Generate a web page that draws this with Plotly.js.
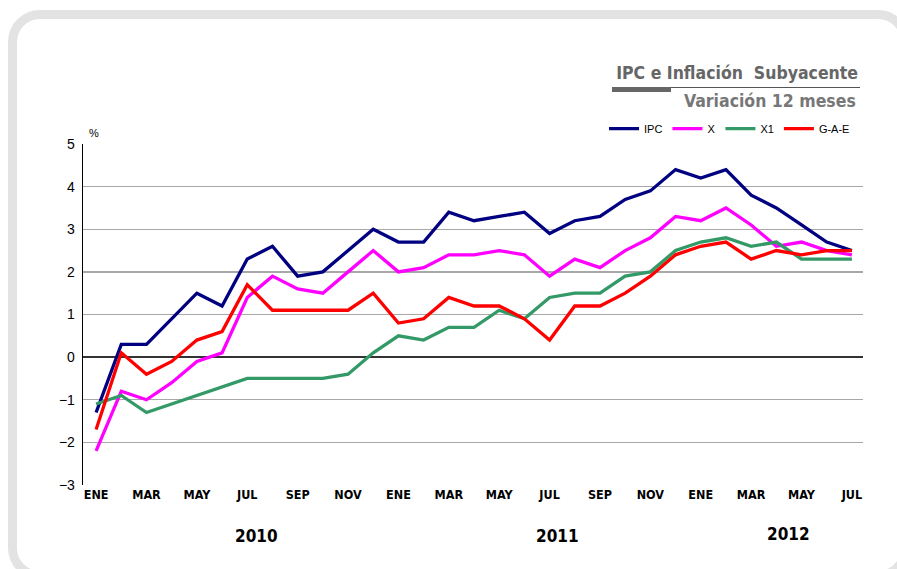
<!DOCTYPE html>
<html>
<head>
<meta charset="utf-8">
<script src="https://cdn.plot.ly/plotly-3.0.1.min.js"></script>
<style>
  html, body { margin:0; padding:0; background:#ffffff; }
  #frame { position:absolute; left:8px; top:10px; width:902px; height:570px; box-sizing:border-box;
           border:9px solid #e3e3e3; border-radius:32px; }
  #chart { position:absolute; left:0; top:0; width:897px; height:569px; }
</style>
</head>
<body>
<div id="frame"></div>
<div id="chart"></div>
<script>
// Months Jan 2010 .. Jul 2012
const months = ["ENE","FEB","MAR","ABR","MAY","JUN","JUL","AGO","SEP","OCT","NOV","DIC",
                "ENE","FEB","MAR","ABR","MAY","JUN","JUL","AGO","SEP","OCT","NOV","DIC",
                "ENE","FEB","MAR","ABR","MAY","JUN","JUL"];
const years = ["2010","2011","2012"];
const ipc = [-1.3, 0.3, 0.3, 0.9, 1.5, 1.2, 2.3, 2.6, 1.9, 2.0, 2.5, 3.0,
             2.7, 2.7, 3.4, 3.2, 3.3, 3.4, 2.9, 3.2, 3.3, 3.7, 3.9, 4.4,
             4.2, 4.4, 3.8, 3.5, 3.1, 2.7, 2.5];
const serieX = [-2.2, -0.8, -1.0, -0.6, -0.1, 0.1, 1.4, 1.9, 1.6, 1.5, 2.0, 2.5,
                2.0, 2.1, 2.4, 2.4, 2.5, 2.4, 1.9, 2.3, 2.1, 2.5, 2.8, 3.3,
                3.2, 3.5, 3.1, 2.6, 2.7, 2.5, 2.4];
const serieX1 = [-1.1, -0.9, -1.3, -1.1, -0.9, -0.7, -0.5, -0.5, -0.5, -0.5, -0.4, 0.1,
                 0.5, 0.4, 0.7, 0.7, 1.1, 0.9, 1.4, 1.5, 1.5, 1.9, 2.0, 2.5,
                 2.7, 2.8, 2.6, 2.7, 2.3, 2.3, 2.3];
const gae = [-1.7, 0.1, -0.4, -0.1, 0.4, 0.6, 1.7, 1.1, 1.1, 1.1, 1.1, 1.5,
             0.8, 0.9, 1.4, 1.2, 1.2, 0.9, 0.4, 1.2, 1.2, 1.5, 1.9, 2.4,
             2.6, 2.7, 2.3, 2.5, 2.4, 2.5, 2.5];
const seriesNames = ["IPC", "X", "X1", "G-A-E"];
const yTicks = [-3, -2, -1, 0, 1, 2, 3, 4, 5];

const idx = months.map((m, i) => i);
const tickIdx = idx.filter(i => i % 2 === 0);
const tickText = tickIdx.map(i => months[i]);

const condensed = "Liberation Sans Narrow, DejaVu Sans Condensed, Arial Narrow, sans-serif";
const colors = ["#000080", "#ff00ff", "#339966", "#ff0000"];
const data = [ipc, serieX, serieX1, gae].map((v, k) => ({
  x: idx, y: v, type: "scatter", mode: "lines", name: seriesNames[k],
  line: { color: colors[k], width: 3.3 }
}));

const layout = {
  width: 897, height: 569,
  margin: { l: 83, r: 34, t: 144, b: 84 },
  paper_bgcolor: "rgba(0,0,0,0)", plot_bgcolor: "rgba(0,0,0,0)",
  showlegend: true,
  legend: { orientation: "h", x: 0.668, xanchor: "left", y: 1.045, yanchor: "middle",
            font: { family: "Arial, Liberation Sans, sans-serif", size: 11, color: "#000" },
            itemwidth: 30, tracegroupgap: 0, bgcolor: "rgba(0,0,0,0)" },
  xaxis: {
    range: [-0.52, 30.44], tickvals: tickIdx, ticktext: tickText,
    showgrid: false, zeroline: false, showline: false, ticks: "",
    tickfont: { family: condensed, size: 12.5, color: "#000", weight: "bold" },
    fixedrange: true
  },
  yaxis: {
    range: [-3, 5], tickvals: yTicks, ticks: "",
    showgrid: true, gridcolor: "#a8a8a8", gridwidth: 1.3,
    zeroline: true, zerolinecolor: "#333", zerolinewidth: 1.3,
    showline: true, linecolor: "#000", linewidth: 1.3,
    tickfont: { family: "Arial, Liberation Sans, sans-serif", size: 14, color: "#000" },
    ticklabelstandoff: 4, fixedrange: true
  },
  title: {
    text: "IPC e Inflación  Subyacente",
    xref: "container", x: 858 / 897, xanchor: "right",
    yref: "container", y: 1 - 73 / 569, yanchor: "middle",
    font: { family: condensed, size: 17.5, color: "#666666", weight: "bold" }
  },
  annotations: [
    { text: "Variación 12 meses", xref: "paper", yref: "paper",
      x: (858 - 83) / (897 - 83 - 34), xanchor: "right", y: (485 - 101) / 341, yanchor: "middle",
      showarrow: false, font: { family: condensed, size: 17.5, color: "#777777", weight: "bold" } },
    { text: "%", xref: "paper", yref: "paper", x: (94 - 83) / 780, xanchor: "center",
      y: (485 - 133) / 341, yanchor: "middle", showarrow: false,
      font: { family: "Arial, Liberation Sans, sans-serif", size: 11, color: "#000" } },
    { text: years[0], xref: "x", yref: "paper", x: 6.35, y: -0.15, yanchor: "middle", showarrow: false,
      font: { family: condensed, size: 17, color: "#000", weight: "bold" } },
    { text: years[1], xref: "x", yref: "paper", x: 18.3, y: -0.15, yanchor: "middle", showarrow: false,
      font: { family: condensed, size: 17, color: "#000", weight: "bold" } },
    { text: years[2], xref: "x", yref: "paper", x: 27.5, y: -0.15 + 0.006, yanchor: "middle", showarrow: false,
      font: { family: condensed, size: 17, color: "#000", weight: "bold" } }
  ],
  shapes: [
    { type: "line", xref: "paper", yref: "paper", x0: (612 - 83) / 780, x1: (860 - 83) / 780,
      y0: (485 - 87.5) / 341, y1: (485 - 87.5) / 341, line: { color: "#555", width: 1 } },
    { type: "rect", xref: "paper", yref: "paper", x0: (612 - 83) / 780, x1: (671 - 83) / 780,
      y0: (485 - 92) / 341, y1: (485 - 87) / 341, fillcolor: "#666", line: { width: 0 } }
  ]
};

Plotly.newPlot("chart", data, layout, { displayModeBar: false, staticPlot: true });
</script>
</body>
</html>
